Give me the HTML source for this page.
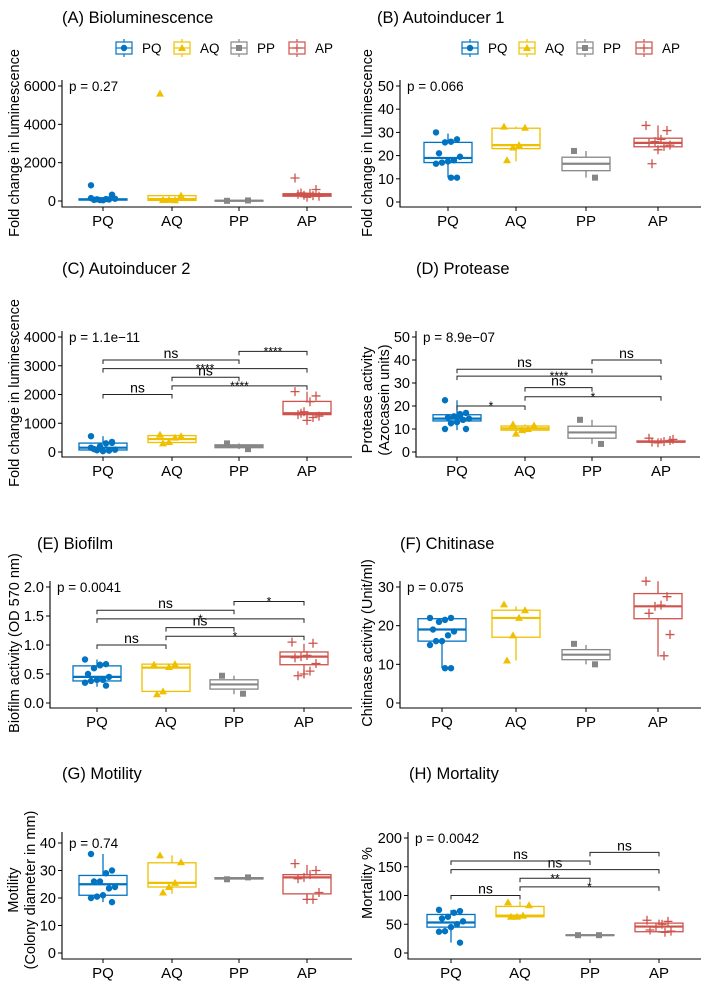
<!DOCTYPE html>
<html><head><meta charset="utf-8">
<style>
html,body{margin:0;padding:0;background:#fff;}
svg{display:block;font-family:"Liberation Sans",Arial,sans-serif;}
</style></head>
<body>
<svg id="fig" width="709" height="1003" viewBox="0 0 709 1003" xmlns="http://www.w3.org/2000/svg"></svg>
<script>
const cats=["PQ","AQ","PP","AP"];
const colors=["#0073C2","#EFC000","#868686","#CD534C"];

// (A) Bioluminescence
const aTicks=[0,2000,4000,6000];
const aLow=[0,0,0,200], aQ1=[50,30,0,250], aMed=[80,100,15,320], aQ3=[110,280,30,380], aHigh=[200,300,30,420];
const aPts=[[820,330,100,50,60,120,80,40,90,150],[5600,280,40,60,50],[10,30],[1200,600,400,300,350,250,280,200,420]];
const aBr=[];
// (B) Autoinducer 1
const bTicks=[0,10,20,30,40,50];
const bLow=[10.5,17.5,10.5,23], bQ1=[17,23,13.5,23.8], bMed=[19,24.5,16.5,25.5], bQ3=[25.7,31.8,19.3,27.5], bHigh=[29.5,32.5,22,33];
const bPts=[[30,27,26,25.7,21,19.5,18,17.5,17,16.5,10.5,10.5],[32.5,32,24.5,23.5,18],[22,10.5],[33,30.8,27,26,25.5,24.5,24,22.5,16.5]];
const bBr=[];
// (C) Autoinducer 2
const cTicks=[0,1000,2000,3000,4000];
const cLow=[0,290,100,1100], cQ1=[70,330,150,1300], cMed=[150,450,200,1350], cQ3=[310,570,250,1760], cHigh=[550,600,300,2100];
const cPts=[[550,350,300,200,100,80,50,30,60,150,320],[600,550,500,350,300],[300,100],[2100,1950,1750,1400,1300,1250,1200,1100,1350]];
const cBr=[[0,1,2000,"ns"],[1,3,2300,"****"],[1,2,2600,"ns"],[0,3,2900,"****"],[0,2,3200,"ns"],[2,3,3500,"****"]];
// (D) Protease
const dTicks=[0,10,20,30,40,50];
const dLow=[9.5,8,3.5,3.8], dQ1=[13.5,9.5,6,4.3], dMed=[14.5,10.3,8.5,4.5], dQ3=[16.2,11.3,11.2,4.8], dHigh=[22.5,12,14,6];
const dPts=[[22.5,17,16.5,15.5,15,14.5,14,13,12.5,10,10,15.8],[12,11.5,10,9.5,8],[14,3.5],[6,5,4.5,4,4.3,5.5]];
const dBr=[[0,1,20,"*"],[1,3,24,"*"],[1,2,28,"ns"],[0,3,33,"****"],[0,2,36,"ns"],[2,3,40,"ns"]];
// (E) Biofilm
const eTicks=[0,0.5,1,1.5,2];
const eTickLabels=["0.0","0.5","1.0","1.5","2.0"];
const eLow=[0.28,0.2,0.15,0.45], eQ1=[0.38,0.2,0.24,0.66], eMed=[0.45,0.61,0.32,0.8], eQ3=[0.64,0.67,0.4,0.88], eHigh=[0.75,0.67,0.47,1.02];
const ePts=[[0.75,0.67,0.66,0.6,0.5,0.45,0.4,0.4,0.38,0.35,0.3,0.65],[0.66,0.67,0.62,0.2,0.15],[0.47,0.16],[1.05,1.03,0.82,0.8,0.78,0.68,0.55,0.5,0.47]];
const eBr=[[0,1,1.0,"ns"],[1,3,1.15,"*"],[1,2,1.3,"ns"],[0,3,1.45,"*"],[0,2,1.6,"ns"],[2,3,1.75,"*"]];
// (F) Chitinase
const fTicks=[0,10,20,30];
const fLow=[9,11,10,12], fQ1=[16,17,11.2,21.8], fMed=[19,22,12.5,25], fQ3=[21.8,24,13.8,28.3], fHigh=[22,25,15,31.5];
const fPts=[[22,22,21.5,21,19,18.5,17.5,16,16,15,9,9],[25.5,24,22,17.5,11],[15.3,10],[31.5,27.5,25.3,25,23.2,17.7,12.2]];
const fBr=[];
// (G) Motility
const gTicks=[0,10,20,30,40];
const gLow=[18.5,21.5,26.8,19], gQ1=[21,24,26.9,21.5], gMed=[25,25.5,27.2,27.5], gQ3=[28.2,32.8,27.4,28.5], gHigh=[36,35.5,27.5,32];
const gPts=[[36,30,29,26,26,24,23.5,21,20.5,20,18.5],[35.5,33,25.5,24,22],[26.8,27.5],[32.5,30,28.5,27.5,27,22,19.5,19.5]];
const gBr=[];
// (H) Mortality
const hTicks=[0,50,100,150,200];
const hLow=[18,62,31,35], hQ1=[45,63,30.5,37], hMed=[53,65,31,46], hQ3=[67,81,31.5,52], hHigh=[75,90,31,58];
const hPts=[[75,73,70,63,60,55,50,45,38,37,18],[88,83,65,63,63],[31,31],[57,55,50,45,40,38,36]];
const hBr=[[0,1,100,"ns"],[1,3,115,"*"],[1,2,130,"**"],[0,3,145,"ns"],[0,2,160,"ns"],[2,3,175,"ns"]];

const NS="http://www.w3.org/2000/svg";
const svg=document.getElementById("fig");
function mk(tag,parent){const e=document.createElementNS(NS,tag);parent.appendChild(e);return e;}
function at(e,o){for(const k in o)e.setAttribute(k,o[k]);return e;}
function txt(parent,x,y,s,size,anchor){const t=mk("text",parent);at(t,{x:x,y:y,"font-size":size,"text-anchor":anchor||"start",fill:"#000"});t.textContent=s;return t;}

function shape(g,k,x,y,c){
  let e;
  if(k===0){e=mk("circle",g);at(e,{cx:x,cy:y,r:3.2,fill:c});}
  else if(k===1){e=mk("polygon",g);at(e,{points:`${x},${y-4} ${x-4},${y+3} ${x+4},${y+3}`,fill:c});}
  else if(k===2){e=mk("rect",g);at(e,{x:x-3,y:y-3,width:6,height:6,fill:c});}
  else {e=mk("path",g);at(e,{d:`M${x-4.5},${y}H${x+4.5}M${x},${y-4.5}V${y+4.5}`,stroke:c,"stroke-width":1.3,fill:"none"});}
  return e;
}

function panel(p){
  const g=mk("g",svg);
  
  
  const sy=v=>p.y0+(v-p.ticks[0])/(p.ticks[p.ticks.length-1]-p.ticks[0])*(p.y1-p.y0);
  const title=txt(g,p.tx,p.ty,p.title,16.5);
  
  
  const ax=mk("path",g);
  at(ax,{d:`M${p.left},${p.top}V${p.bottom}H${p.right}`,stroke:"#000","stroke-width":1.1,fill:"none"});
  
  
  p.ticks.forEach((v,i)=>{
    const y=sy(v);
    const tk=mk("line",g);at(tk,{x1:p.left-4,x2:p.left,y1:y,y2:y,stroke:"#000","stroke-width":1});
    const tl=txt(g,p.left-6,y+5,p.tlabels?p.tlabels[i]:String(v),14.5,"end");
    
    
  });
  p.cx.forEach((x,i)=>{
    const tk=mk("line",g);at(tk,{x1:x,x2:x,y1:p.bottom,y2:p.bottom+4,stroke:"#000","stroke-width":1});
    const tl=txt(g,x,p.bottom+19,cats[i],15,"middle");
    
    
  });
  const yt=mk("text",g);
  at(yt,{transform:`translate(${p.ytx},${p.yty}) rotate(-90)`,"font-size":14.5,"text-anchor":"middle",fill:"#000"});
  
  
  p.ytitle.forEach((s,i)=>{const ts=mk("tspan",yt);at(ts,{x:0,y:i*17-(p.ytitle.length-1)*17});ts.textContent=s;});
  for(let k=0;k<4;k++){
    const c=colors[k],x=p.cx[k],hw=24;
    const bg=mk("g",g);
    
    
    const wl=mk("line",bg);at(wl,{x1:x,x2:x,y1:sy(p.low[k]),y2:sy(p.high[k]),stroke:c,"stroke-width":1.3});
    const r=mk("rect",bg);const yq3=sy(p.q3[k]),yq1=sy(p.q1[k]);
    at(r,{x:x-hw,y:yq3,width:hw*2,height:Math.max(yq1-yq3,0.5),fill:"#fff",stroke:c,"stroke-width":1.3});
    const md=mk("line",bg);at(md,{x1:x-hw,x2:x+hw,y1:sy(p.med[k]),y2:sy(p.med[k]),stroke:c,"stroke-width":2.2});
    p.pts[k].forEach((v,j)=>{
      const jx=((j*7)%9-4)*3;
      const s=shape(bg,k,x+jx,sy(v),c);
      
      
    });
  }
  p.br.forEach(b=>{
    const y=sy(b[2]),x1=p.cx[b[0]],x2=p.cx[b[1]];
    const bl=mk("path",g);
    at(bl,{d:`M${x1},${y+4}V${y}H${x2}V${y+4}`,stroke:"#222","stroke-width":1,fill:"none"});
    
    
    const star=b[3]!=="ns";
    const lt=txt(g,(x1+x2)/2,star?y+4:y-2,b[3],star?12:14,"middle");
    
    
  });
  const pv=txt(g,p.left+7,sy(p.ticks[p.ticks.length-1])+5,p.pval,13.5);
  
  
  if(p.legend){
    const lg=mk("g",g);
    
    
    p.legend.forEach((lx,k)=>{
      const c=colors[k],y=p.ly;
      const e=mk("g",lg);
      
      
      const v=mk("line",e);at(v,{x1:lx,x2:lx,y1:y-9,y2:y+9,stroke:c,"stroke-width":1.2});
      const r=mk("rect",e);at(r,{x:lx-8,y:y-6,width:16,height:12,fill:"#fff",stroke:c,"stroke-width":1.2});
      const m=mk("line",e);at(m,{x1:lx-8,x2:lx+8,y1:y,y2:y,stroke:c,"stroke-width":1.2});
      shape(e,k,lx,y,c);
      txt(e,lx+18,y+5,cats[k],13.5);
    });
  }
}

const L=[103,172,239,307];
panel({name:"panel-a-bioluminescence",title:"(A) Bioluminescence",tx:62,ty:23,left:62,right:352,top:80,bottom:207,y0:201,y1:86,ticks:aTicks,cx:L,ytx:19,yty:143,ytitle:["Fold change in luminescence"],low:aLow,q1:aQ1,med:aMed,q3:aQ3,high:aHigh,pts:aPts,br:aBr,pval:"p = 0.27",legend:[124,182,239,297],ly:48});
panel({name:"panel-b-autoinducer-1",title:"(B) Autoinducer 1",tx:377,ty:23,left:400,right:701,top:80,bottom:207,y0:202,y1:86,ticks:bTicks,cx:[448,516,586,658],ytx:372,yty:143,ytitle:["Fold change in luminescence"],low:bLow,q1:bQ1,med:bMed,q3:bQ3,high:bHigh,pts:bPts,br:bBr,pval:"p = 0.066",legend:[470,527,585,644],ly:48});
panel({name:"panel-c-autoinducer-2",title:"(C) Autoinducer 2",tx:62,ty:274,left:62,right:352,top:331,bottom:457,y0:452,y1:337,ticks:cTicks,cx:L,ytx:19,yty:393,ytitle:["Fold change in luminescence"],low:cLow,q1:cQ1,med:cMed,q3:cQ3,high:cHigh,pts:cPts,br:cBr,pval:"p = 1.1e\u221211"});
panel({name:"panel-d-protease",title:"(D) Protease",tx:416,ty:274,left:416,right:700,top:331,bottom:457,y0:452,y1:337,ticks:dTicks,cx:[457,525,592,661],ytx:389,yty:400,ytitle:["Protease activity","(Azocasein units)"],low:dLow,q1:dQ1,med:dMed,q3:dQ3,high:dHigh,pts:dPts,br:dBr,pval:"p = 8.9e\u221207"});
panel({name:"panel-e-biofilm",title:"(E) Biofilm",tx:37,ty:549,left:50,right:352,top:581,bottom:708,y0:703,y1:587,ticks:eTicks,tlabels:eTickLabels,cx:[97,166,234,304],ytx:19,yty:643,ytitle:["Biofilm activity (OD 570 nm)"],low:eLow,q1:eQ1,med:eMed,q3:eQ3,high:eHigh,pts:ePts,br:eBr,pval:"p = 0.0041"});
panel({name:"panel-f-chitinase",title:"(F) Chitinase",tx:400,ty:549,left:400,right:701,top:581,bottom:708,y0:703,y1:587,ticks:fTicks,cx:[442,516,586,658],ytx:372,yty:643,ytitle:["Chitinase activity (Unit/ml)"],low:fLow,q1:fQ1,med:fMed,q3:fQ3,high:fHigh,pts:fPts,br:fBr,pval:"p = 0.075"});
panel({name:"panel-g-motility",title:"(G) Motility",tx:62,ty:779,left:62,right:352,top:832,bottom:959,y0:953,y1:843,ticks:gTicks,cx:L,ytx:35,yty:890,ytitle:["Motility","(Colony diameter in mm)"],low:gLow,q1:gQ1,med:gMed,q3:gQ3,high:gHigh,pts:gPts,br:gBr,pval:"p = 0.74"});
panel({name:"panel-h-mortality",title:"(H) Mortality",tx:409,ty:779,left:408,right:701,top:832,bottom:959,y0:953,y1:838,ticks:hTicks,cx:[451,520,590,659],ytx:372,yty:883,ytitle:["Mortality %"],low:hLow,q1:hQ1,med:hMed,q3:hQ3,high:hHigh,pts:hPts,br:hBr,pval:"p = 0.0042"});
</script>
</body></html>
